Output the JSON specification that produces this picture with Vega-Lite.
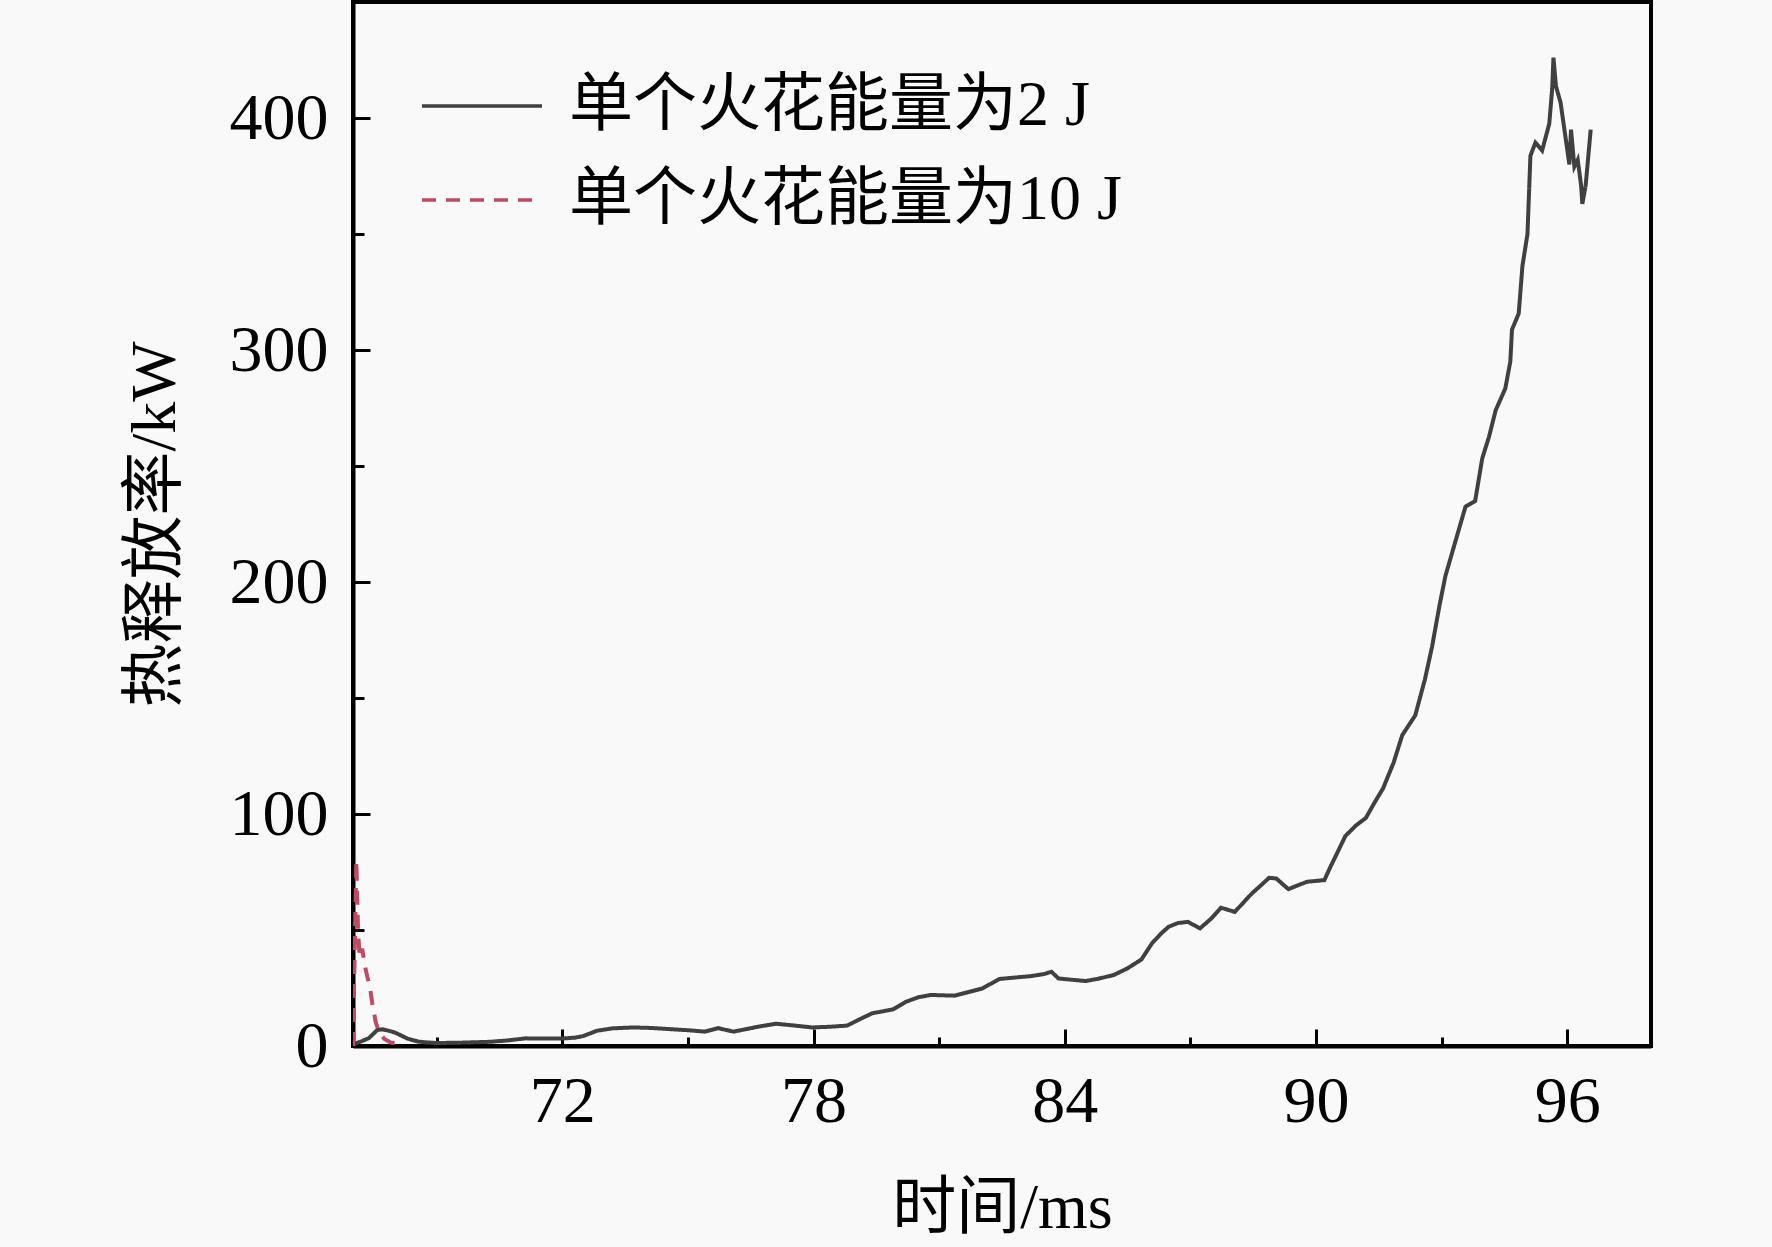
{
  "$schema": "https://vega.github.io/schema/vega-lite/v6.json",
  "width": 1298,
  "height": 1044,
  "autosize": "none",
  "padding": {"left": 353, "top": 2, "right": 121, "bottom": 201},
  "background": "#f9f9f9",
  "config": {
    "font": "Liberation Serif, Noto Sans CJK SC",
    "view": {"stroke": "black", "strokeWidth": 4},
    "axis": {
      "domainColor": "black",
      "domainWidth": 4,
      "tickColor": "black",
      "tickWidth": 3,
      "grid": false,
      "labelColor": "black",
      "labelFont": "Liberation Serif",
      "labelFontSize": 66,
      "titleFont": "Liberation Serif, Noto Sans CJK SC",
      "titleFontSize": 64,
      "titleFontWeight": "normal",
      "titleColor": "black"
    },
    "legend": {
      "labelFont": "Liberation Serif, Noto Sans CJK SC",
      "labelFontSize": 64,
      "labelColor": "black",
      "labelLimit": 0
    }
  },
  "data": {
    "values": [
      {"t": 67.0, "q": 0.5, "s": "单个火花能量为2 J"},
      {"t": 67.06, "q": 1.1, "s": "单个火花能量为2 J"},
      {"t": 67.2, "q": 2.0, "s": "单个火花能量为2 J"},
      {"t": 67.38, "q": 3.4, "s": "单个火花能量为2 J"},
      {"t": 67.5, "q": 5.5, "s": "单个火花能量为2 J"},
      {"t": 67.58, "q": 6.9, "s": "单个火花能量为2 J"},
      {"t": 67.7, "q": 7.2, "s": "单个火花能量为2 J"},
      {"t": 67.85, "q": 6.6, "s": "单个火花能量为2 J"},
      {"t": 68.0, "q": 5.8, "s": "单个火花能量为2 J"},
      {"t": 68.13, "q": 4.7, "s": "单个火花能量为2 J"},
      {"t": 68.3, "q": 3.2, "s": "单个火花能量为2 J"},
      {"t": 68.41, "q": 2.6, "s": "单个火花能量为2 J"},
      {"t": 68.56, "q": 1.9, "s": "单个火花能量为2 J"},
      {"t": 68.73, "q": 1.6, "s": "单个火花能量为2 J"},
      {"t": 68.99, "q": 1.3, "s": "单个火花能量为2 J"},
      {"t": 69.5, "q": 1.4, "s": "单个火花能量为2 J"},
      {"t": 70.26, "q": 1.8, "s": "单个火花能量为2 J"},
      {"t": 70.7, "q": 2.4, "s": "单个火花能量为2 J"},
      {"t": 71.12, "q": 3.3, "s": "单个火花能量为2 J"},
      {"t": 71.5, "q": 3.2, "s": "单个火花能量为2 J"},
      {"t": 71.98, "q": 3.2, "s": "单个火花能量为2 J"},
      {"t": 72.3, "q": 3.6, "s": "单个火花能量为2 J"},
      {"t": 72.5, "q": 4.3, "s": "单个火花能量为2 J"},
      {"t": 72.83, "q": 6.6, "s": "单个火花能量为2 J"},
      {"t": 73.2, "q": 7.6, "s": "单个火花能量为2 J"},
      {"t": 73.68, "q": 8.0, "s": "单个火花能量为2 J"},
      {"t": 74.1, "q": 7.8, "s": "单个火花能量为2 J"},
      {"t": 74.55, "q": 7.3, "s": "单个火花能量为2 J"},
      {"t": 75.0, "q": 6.8, "s": "单个火花能量为2 J"},
      {"t": 75.4, "q": 6.2, "s": "单个火花能量为2 J"},
      {"t": 75.72, "q": 7.7, "s": "单个火花能量为2 J"},
      {"t": 76.09, "q": 6.2, "s": "单个火花能量为2 J"},
      {"t": 76.4, "q": 7.3, "s": "单个火花能量为2 J"},
      {"t": 76.67, "q": 8.3, "s": "单个火花能量为2 J"},
      {"t": 77.1, "q": 9.6, "s": "单个火花能量为2 J"},
      {"t": 77.5, "q": 8.9, "s": "单个火花能量为2 J"},
      {"t": 77.96, "q": 8.0, "s": "单个火花能量为2 J"},
      {"t": 78.4, "q": 8.3, "s": "单个火花能量为2 J"},
      {"t": 78.8, "q": 8.8, "s": "单个火花能量为2 J"},
      {"t": 79.1, "q": 11.5, "s": "单个火花能量为2 J"},
      {"t": 79.4, "q": 14.1, "s": "单个火花能量为2 J"},
      {"t": 79.9, "q": 15.8, "s": "单个火花能量为2 J"},
      {"t": 80.2, "q": 19.0, "s": "单个火花能量为2 J"},
      {"t": 80.5, "q": 21.0, "s": "单个火花能量为2 J"},
      {"t": 80.8, "q": 22.0, "s": "单个火花能量为2 J"},
      {"t": 81.37, "q": 21.7, "s": "单个火花能量为2 J"},
      {"t": 82.03, "q": 24.8, "s": "单个火花能量为2 J"},
      {"t": 82.44, "q": 28.9, "s": "单个火花能量为2 J"},
      {"t": 82.8, "q": 29.5, "s": "单个火花能量为2 J"},
      {"t": 83.18, "q": 30.1, "s": "单个火花能量为2 J"},
      {"t": 83.5, "q": 31.0, "s": "单个火花能量为2 J"},
      {"t": 83.68, "q": 32.0, "s": "单个火花能量为2 J"},
      {"t": 83.85, "q": 29.1, "s": "单个火花能量为2 J"},
      {"t": 84.2, "q": 28.5, "s": "单个火花能量为2 J"},
      {"t": 84.5, "q": 28.0, "s": "单个火花能量为2 J"},
      {"t": 84.8, "q": 29.0, "s": "单个火花能量为2 J"},
      {"t": 85.17, "q": 30.6, "s": "单个火花能量为2 J"},
      {"t": 85.5, "q": 33.5, "s": "单个火花能量为2 J"},
      {"t": 85.83, "q": 37.3, "s": "单个火花能量为2 J"},
      {"t": 86.08, "q": 44.2, "s": "单个火花能量为2 J"},
      {"t": 86.3, "q": 48.5, "s": "单个火花能量为2 J"},
      {"t": 86.48, "q": 51.4, "s": "单个火花能量为2 J"},
      {"t": 86.7, "q": 53.0, "s": "单个火花能量为2 J"},
      {"t": 86.94, "q": 53.5, "s": "单个火花能量为2 J"},
      {"t": 87.23, "q": 50.7, "s": "单个火花能量为2 J"},
      {"t": 87.5, "q": 55.0, "s": "单个火花能量为2 J"},
      {"t": 87.73, "q": 59.6, "s": "单个火花能量为2 J"},
      {"t": 88.06, "q": 57.8, "s": "单个火花能量为2 J"},
      {"t": 88.3, "q": 62.5, "s": "单个火花能量为2 J"},
      {"t": 88.47, "q": 65.8, "s": "单个火花能量为2 J"},
      {"t": 88.7, "q": 69.5, "s": "单个火花能量为2 J"},
      {"t": 88.88, "q": 72.5, "s": "单个火花能量为2 J"},
      {"t": 89.05, "q": 72.2, "s": "单个火花能量为2 J"},
      {"t": 89.34, "q": 67.6, "s": "单个火花能量为2 J"},
      {"t": 89.6, "q": 69.5, "s": "单个火花能量为2 J"},
      {"t": 89.79, "q": 70.8, "s": "单个火花能量为2 J"},
      {"t": 90.2, "q": 71.5, "s": "单个火花能量为2 J"},
      {"t": 90.33, "q": 76.7, "s": "单个火花能量为2 J"},
      {"t": 90.5, "q": 83.0, "s": "单个火花能量为2 J"},
      {"t": 90.7, "q": 90.5, "s": "单个火花能量为2 J"},
      {"t": 90.95, "q": 95.0, "s": "单个火花能量为2 J"},
      {"t": 91.19, "q": 98.3, "s": "单个火花能量为2 J"},
      {"t": 91.4, "q": 105.0, "s": "单个火花能量为2 J"},
      {"t": 91.6, "q": 111.0, "s": "单个火花能量为2 J"},
      {"t": 91.85, "q": 122.0, "s": "单个火花能量为2 J"},
      {"t": 92.06, "q": 134.0, "s": "单个火花能量为2 J"},
      {"t": 92.37, "q": 142.5, "s": "单个火花能量为2 J"},
      {"t": 92.6, "q": 158.0, "s": "单个火花能量为2 J"},
      {"t": 92.77, "q": 172.0, "s": "单个火花能量为2 J"},
      {"t": 92.95, "q": 190.0, "s": "单个火花能量为2 J"},
      {"t": 93.09, "q": 202.6, "s": "单个火花能量为2 J"},
      {"t": 93.33, "q": 217.6, "s": "单个火花能量为2 J"},
      {"t": 93.57, "q": 232.5, "s": "单个火花能量为2 J"},
      {"t": 93.8, "q": 234.9, "s": "单个火花能量为2 J"},
      {"t": 93.97, "q": 253.3, "s": "单个火花能量为2 J"},
      {"t": 94.13, "q": 262.5, "s": "单个火花能量为2 J"},
      {"t": 94.29, "q": 274.0, "s": "单个火花能量为2 J"},
      {"t": 94.52, "q": 283.4, "s": "单个火花能量为2 J"},
      {"t": 94.64, "q": 295.0, "s": "单个火花能量为2 J"},
      {"t": 94.68, "q": 308.8, "s": "单个火花能量为2 J"},
      {"t": 94.84, "q": 315.7, "s": "单个火花能量为2 J"},
      {"t": 94.93, "q": 336.3, "s": "单个火花能量为2 J"},
      {"t": 95.05, "q": 350.0, "s": "单个火花能量为2 J"},
      {"t": 95.12, "q": 383.7, "s": "单个火花能量为2 J"},
      {"t": 95.24, "q": 389.4, "s": "单个火花能量为2 J"},
      {"t": 95.4, "q": 386.0, "s": "单个火花能量为2 J"},
      {"t": 95.57, "q": 397.5, "s": "单个火花能量为2 J"},
      {"t": 95.64, "q": 412.6, "s": "单个火花能量为2 J"},
      {"t": 95.67, "q": 426.0, "s": "单个火花能量为2 J"},
      {"t": 95.73, "q": 413.7, "s": "单个火花能量为2 J"},
      {"t": 95.84, "q": 406.7, "s": "单个火花能量为2 J"},
      {"t": 96.05, "q": 380.0, "s": "单个火花能量为2 J"},
      {"t": 96.09, "q": 395.0, "s": "单个火花能量为2 J"},
      {"t": 96.17, "q": 379.0, "s": "单个火花能量为2 J"},
      {"t": 96.25, "q": 382.0, "s": "单个火花能量为2 J"},
      {"t": 96.33, "q": 371.0, "s": "单个火花能量为2 J"},
      {"t": 96.36, "q": 363.0, "s": "单个火花能量为2 J"},
      {"t": 96.44, "q": 371.0, "s": "单个火花能量为2 J"},
      {"t": 96.56, "q": 395.0, "s": "单个火花能量为2 J"},
      {"t": 67.0, "q": 0.0, "s": "单个火花能量为10 J"},
      {"t": 67.08, "q": 80.0, "s": "单个火花能量为10 J"},
      {"t": 67.12, "q": 50.0, "s": "单个火花能量为10 J"},
      {"t": 67.16, "q": 38.0, "s": "单个火花能量为10 J"},
      {"t": 67.22, "q": 42.0, "s": "单个火花能量为10 J"},
      {"t": 67.28, "q": 35.0, "s": "单个火花能量为10 J"},
      {"t": 67.34, "q": 30.0, "s": "单个火花能量为10 J"},
      {"t": 67.4, "q": 26.0, "s": "单个火花能量为10 J"},
      {"t": 67.46, "q": 18.5, "s": "单个火花能量为10 J"},
      {"t": 67.54, "q": 10.5, "s": "单个火花能量为10 J"},
      {"t": 67.62, "q": 6.0, "s": "单个火花能量为10 J"},
      {"t": 67.75, "q": 3.0, "s": "单个火花能量为10 J"},
      {"t": 67.9, "q": 1.5, "s": "单个火花能量为10 J"},
      {"t": 68.1, "q": 1.0, "s": "单个火花能量为10 J"}
    ]
  },
  "mark": {"type": "line", "strokeWidth": 4, "clip": true},
  "encoding": {
    "x": {
      "field": "t",
      "type": "quantitative",
      "title": "时间/ms",
      "scale": {"domain": [67, 98], "nice": false, "zero": false},
      "axis": {
        "values": [69, 72, 75, 78, 81, 84, 87, 90, 93, 96],
        "labelExpr": "datum.value % 6 === 0 ? datum.label : ''",
        "tickSize": {"condition": {"test": "datum.value % 6 === 0", "value": -17}, "value": -9},
        "labelPadding": 40,
        "titlePadding": 42
      }
    },
    "y": {
      "field": "q",
      "type": "quantitative",
      "title": "热释放率/kW",
      "scale": {"domain": [0, 450], "nice": false},
      "axis": {
        "values": [0, 50, 100, 150, 200, 250, 300, 350, 400],
        "labelExpr": "datum.value % 100 === 0 ? datum.label : ''",
        "tickSize": {"condition": {"test": "datum.value % 100 === 0", "value": -17}, "value": -11},
        "labelPadding": 42,
        "titlePadding": 42
      }
    },
    "color": {
      "field": "s",
      "type": "nominal",
      "scale": {"domain": ["单个火花能量为2 J", "单个火花能量为10 J"], "range": ["#404040", "#c04a64"]},
      "legend": {
        "title": null,
        "orient": "none",
        "legendX": 67,
        "legendY": 42,
        "padding": 0,
        "symbolType": "stroke",
        "symbolSize": 14400,
        "symbolStrokeWidth": 3.5,
        "labelOffset": 25,
        "labelLineHeight": 56,
        "rowPadding": 0
      }
    },
    "strokeDash": {
      "field": "s",
      "type": "nominal",
      "scale": {"domain": ["单个火花能量为2 J", "单个火花能量为10 J"], "range": [[1, 0], [14, 10]]},
      "legend": null
    }
  }
}
